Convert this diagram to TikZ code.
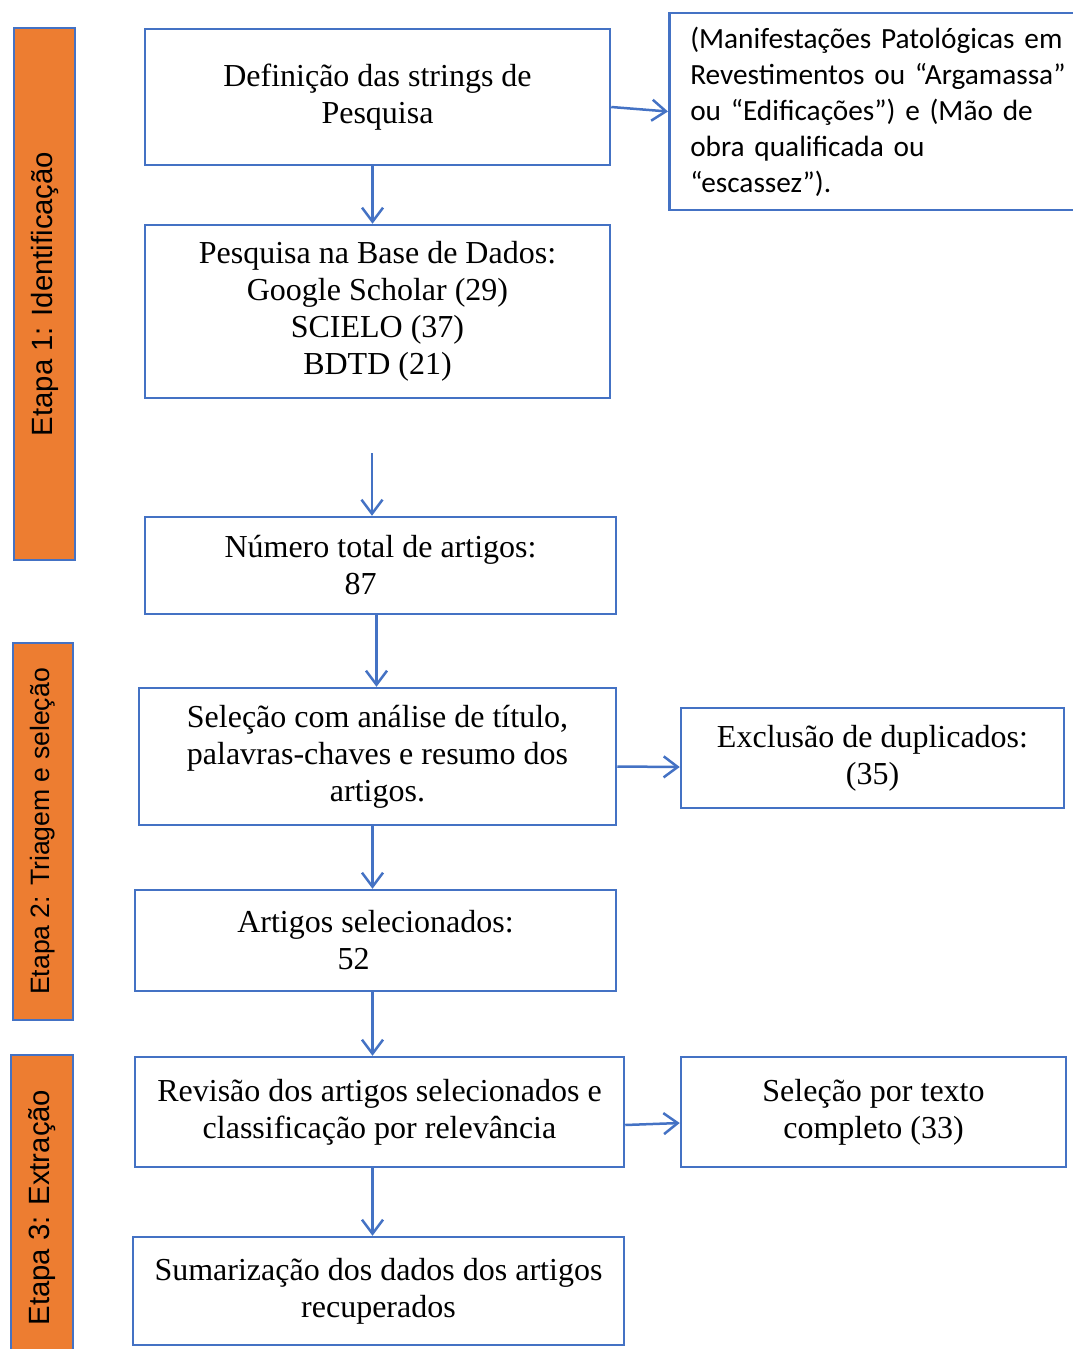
\documentclass[tikz,border=0pt]{standalone}
\usepackage{fontspec}
\setmainfont{Liberation Serif}
\newfontfamily\calibrifont{Carlito}
\newfontfamily\arialfont{Liberation Sans}
\usetikzlibrary{arrows.meta}

\definecolor{boxblue}{HTML}{4472C4}
\definecolor{stageorange}{HTML}{ED7D31}

\begin{document}
\begin{tikzpicture}[x=1pt, y=-1pt,
    flowbox/.style={rectangle, draw=boxblue, line width=2.5pt, inner sep=4pt, align=center,
        font=\fontsize{32}{37}\selectfont},
    stagebar/.style={rectangle, draw=boxblue, fill=stageorange, line width=2.5pt, rotate=90,
        font=\arialfont\fontsize{29.3}{34}\selectfont},
    flowarrow/.style={draw=boxblue, line width=2.5pt, -{Straight Barb[length=14pt, width=21pt]}}]
    \useasboundingbox (0,0) rectangle (1072,1349);

    % stages
    \node[stagebar, minimum width=532pt, minimum height=61pt] (stage1) at (44.5,294) {Etapa 1: Identificação};
    \node[stagebar, minimum width=377pt, minimum height=60pt, font=\arialfont\fontsize{26.6}{31}\selectfont] (stage2) at (43,831.5) {Etapa 2: Triagem e seleção};
    \node[stagebar, minimum width=305pt, minimum height=62pt] (stage3) at (42,1207.5) {Etapa 3: Extração};

    % boxes
    \node[flowbox, minimum width=465pt, minimum height=136pt] (def) at (377.5,97) {Definição das strings de\\Pesquisa};
    \node[flowbox, minimum width=465pt, minimum height=173pt] (pesq) at (377.5,311.5) {Pesquisa na Base de Dados:\\Google Scholar (29)\\SCIELO (37)\\BDTD (21)};
    \node[flowbox, anchor=west, minimum height=197pt, inner xsep=21pt, text width=420pt, align=left,
        font=\calibrifont\fontsize{29.3}{36}\selectfont] (strings) at (668,111.5)
        {(Manifestações Patológicas em\\Revestimentos ou “Argamassa”\\ou “Edificações”) e (Mão de\\obra qualificada ou\\“escassez”).};
    \node[flowbox, minimum width=471pt, minimum height=97pt] (total) at (380.5,565.5) {Número total de artigos:\\87\hspace*{40pt}};
    \node[flowbox, minimum width=477pt, minimum height=137pt] (sel) at (377.5,756.5) {Seleção com análise de título,\\palavras-chaves e resumo dos\\artigos.};
    \node[flowbox, minimum width=383pt, minimum height=100pt] (excl) at (872.5,758) {Exclusão de duplicados:\\(35)};
    \node[flowbox, minimum width=481pt, minimum height=101pt] (artsel) at (375.5,940.5) {Artigos selecionados:\\52\hspace*{44pt}};
    \node[flowbox, minimum width=489pt, minimum height=110pt] (rev) at (379.5,1112) {Revisão dos artigos selecionados e\\classificação por relevância};
    \node[flowbox, minimum width=385pt, minimum height=110pt] (selfull) at (873.5,1112) {Seleção por texto\\completo (33)};
    \node[flowbox, minimum width=491pt, minimum height=108pt] (sum) at (378.5,1291) {Sumarização dos dados dos artigos\\recuperados};

    % arrows
    \coordinate (gapstart) at (372,453);
    \draw[flowarrow] ([xshift=-5pt]def.south) -- ([xshift=-5pt]def.south |- pesq.north);
    \draw[flowarrow] ([yshift=-10pt]def.east) -- (strings.west);
    \draw[flowarrow] (gapstart) -- (gapstart |- total.north);
    \draw[flowarrow] ([xshift=-4pt]total.south) -- ([xshift=-4pt]total.south |- sel.north);
    \draw[flowarrow] ([yshift=-10pt]sel.east) -- ([yshift=-9pt]excl.west);
    \draw[flowarrow] ([xshift=-5pt]sel.south) -- ([xshift=-5pt]sel.south |- artsel.north);
    \draw[flowarrow] ([xshift=-3pt]artsel.south) -- ([xshift=-3pt]artsel.south |- rev.north);
    \draw[flowarrow] ([yshift=-13pt]rev.east) -- ([yshift=-11pt]selfull.west);
    \draw[flowarrow] ([xshift=-7pt]rev.south) -- ([xshift=-7pt]rev.south |- sum.north);
\end{tikzpicture}
\end{document}
